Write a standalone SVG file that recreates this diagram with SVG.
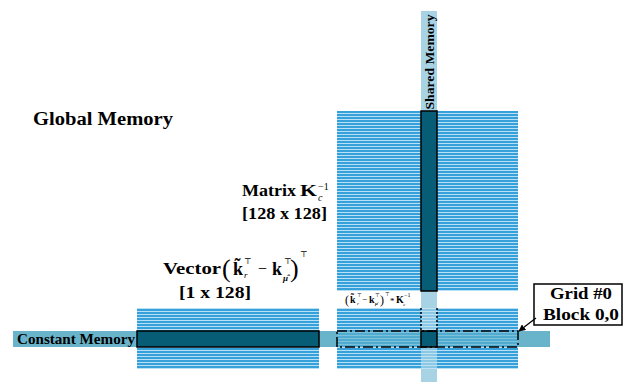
<svg xmlns="http://www.w3.org/2000/svg" width="624" height="383" viewBox="0 0 624 383">
<defs>
<pattern id="stripes" width="4" height="3" patternUnits="userSpaceOnUse">
<rect width="4" height="3" fill="#b8e0f5"/>
<rect width="4" height="2" fill="#36a0da"/>
</pattern>
<marker id="arr" viewBox="0 0 10 10" refX="9" refY="5" markerWidth="7" markerHeight="7" orient="auto" markerUnits="userSpaceOnUse">
<path d="M0,0 L10,5 L0,10 z" fill="#000"/>
</marker>
</defs>
<style>
.blk{fill:url(#stripes)}
.shared{fill:#a7d3e5}
.sharedT{fill:#c4e3ef;fill-opacity:0.6}
.const{fill:#6ab4cb}
.constT{fill:#5fb0cc;fill-opacity:0.65}
.dark{fill:#075c76;stroke:#000;stroke-width:1.5}
.t{font-family:"Liberation Serif","DejaVu Serif",serif;font-weight:bold;fill:#000}
.n{font-weight:normal}
.it{font-style:italic}
.dashdot{fill:none;stroke:#000;stroke-width:1.5;stroke-dasharray:10 3 2 3}
.dot{fill:none;stroke:#000;stroke-width:1.5;stroke-dasharray:2 2}
</style>

<g id="global-memory">
<rect class="blk" x="337" y="111" width="181" height="180"/>
<rect class="blk" x="337" y="308" width="181" height="61"/>
<rect class="blk" x="137" y="308" width="182" height="61"/>
<text class="t" x="33" y="125" font-size="18" textLength="140" lengthAdjust="spacingAndGlyphs">Global  Memory</text>
</g>

<g id="shared-memory">
<rect class="shared" x="421" y="11" width="16" height="100"/>
<rect class="shared" x="421" y="291" width="16" height="17"/>
<rect class="sharedT" x="421" y="308" width="16" height="61"/>
<rect class="shared" x="421" y="369" width="16" height="13"/>
<text class="t" font-size="13.5" text-anchor="middle" transform="translate(434,62) rotate(-90)" textLength="95" lengthAdjust="spacingAndGlyphs">Shared Memory</text>
</g>

<g id="constant-memory">
<rect class="const" x="13" y="331" width="124" height="16"/>
<rect class="const" x="319" y="331" width="18" height="16"/>
<rect class="constT" x="337" y="331" width="181" height="16"/>
<rect class="const" x="518" y="331" width="32" height="16"/>
<text class="t" x="17" y="343.5" font-size="14.5" textLength="118" lengthAdjust="spacingAndGlyphs">Constant  Memory</text>
</g>

<g id="matrix">
<rect class="dark" x="421" y="111" width="16" height="180"/>
<text class="t" x="242" y="196" font-size="17" textLength="54" lengthAdjust="spacingAndGlyphs">Matrix</text>
<text class="t" x="300" y="196" font-size="17" textLength="17" lengthAdjust="spacingAndGlyphs">K</text>
<text class="t it n" x="318" y="201" font-size="10">c</text>
<text class="t n" x="318" y="190" font-size="10">−1</text>
<text class="t" x="242" y="219" font-size="17" textLength="85" lengthAdjust="spacingAndGlyphs">[128 x 128]</text>
</g>

<g id="vector">
<rect class="dark" x="137" y="331" width="182" height="16"/>
<text class="t" x="163" y="274" font-size="17" textLength="58" lengthAdjust="spacingAndGlyphs">Vector</text>
<text class="t n" x="222" y="277" font-size="26">(</text>
<text class="t" x="233" y="275" font-size="18">k̃</text>
<text class="t n" x="244" y="264" font-size="8">⊤</text>
<text class="t it n" x="244" y="278" font-size="9">r</text>
<text class="t n" x="258" y="274" font-size="16">−</text>
<text class="t" x="272" y="275" font-size="18">k</text>
<text class="t n" x="284" y="264" font-size="8">⊤</text>
<text class="t it" x="283" y="281" font-size="9">μ̂</text>
<text class="t n" x="290" y="277" font-size="26">)</text>
<text class="t n" x="300" y="257" font-size="8">⊤</text>
<text class="t" x="179" y="298" font-size="17" textLength="72" lengthAdjust="spacingAndGlyphs">[1 x 128]</text>
</g>

<g id="result-block">
<rect class="dark" x="421" y="331" width="16" height="16"/>
<text class="t n" x="345" y="304" font-size="12">(</text>
<text class="t" x="350" y="303" font-size="10">k̃</text>
<text class="t n" x="357" y="297" font-size="5">⊤</text>
<text class="t it n" x="357" y="305" font-size="5">r</text>
<text class="t n" x="362" y="302" font-size="9">−</text>
<text class="t" x="369" y="303" font-size="10">k</text>
<text class="t n" x="375" y="297" font-size="5">⊤</text>
<text class="t it" x="375" y="305" font-size="5">μ̂</text>
<text class="t n" x="380" y="304" font-size="12">)</text>
<text class="t n" x="385" y="296" font-size="5">⊤</text>
<text class="t n" x="390" y="304" font-size="9">*</text>
<text class="t" x="396" y="303" font-size="10">K</text>
<text class="t it n" x="403" y="306" font-size="5">c</text>
<text class="t n" x="404" y="297" font-size="6">−1</text>
</g>

<g id="grid-block">
<rect x="534" y="284" width="88" height="41" fill="#fff" stroke="#000" stroke-width="1.5"/>
<text class="t" x="581" y="299" font-size="17" text-anchor="middle" textLength="62" lengthAdjust="spacingAndGlyphs">Grid #0</text>
<text class="t" x="581" y="320" font-size="17" text-anchor="middle" textLength="76" lengthAdjust="spacingAndGlyphs">Block 0,0</text>
</g>

<g id="connectors">
<rect class="dashdot" x="337" y="331" width="181" height="16"/>
<line class="dot" x1="421" y1="308" x2="421" y2="331"/>
<line class="dot" x1="437" y1="308" x2="437" y2="331"/>
<line x1="536" y1="318" x2="519" y2="331" stroke="#000" stroke-width="1.3" marker-end="url(#arr)"/>
</g>
</svg>
